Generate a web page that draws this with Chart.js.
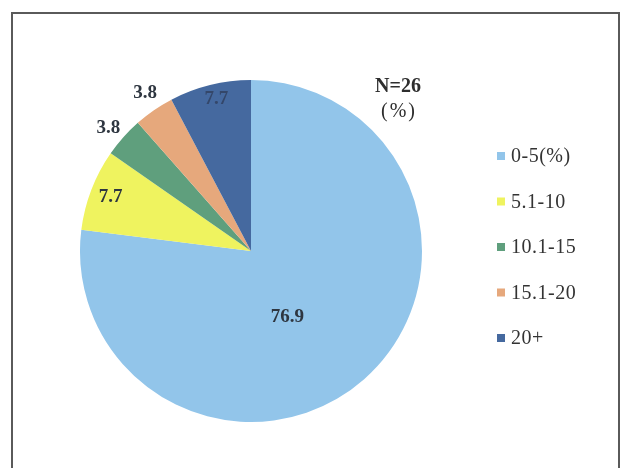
<!DOCTYPE html>
<html>
<head>
<meta charset="utf-8">
<script src="https://cdn.jsdelivr.net/npm/chart.js@4.4.1/dist/chart.umd.min.js"></script>
<style>
    html, body { margin: 0; padding: 0; background: #fff; }
    #wrap { position: relative; width: 622px; height: 468px; overflow: hidden; }
    #frame {
        position: absolute; left: 11px; top: 12px; width: 609px; height: 480px;
        border: 2px solid #5a5a5a; box-sizing: border-box;
    }
    canvas { position: absolute; left: 0; top: 0; }
</style>
</head>
<body>
<div id="wrap">
    <div id="frame"></div>
    <canvas id="pie" width="622" height="468"></canvas>
</div>
<script>
// share of respondents per range (%)
const categories = ['0-5(%)', '5.1-10', '10.1-15', '15.1-20', '20+'];
const shares = [76.9, 7.7, 3.8, 3.8, 7.7];
const sampleNote = ['N=26', '(%)'];

const sliceColors = ['#92c5ea', '#eff35f', '#5f9f7d', '#e6a87c', '#45699f'];

// where each value label sits: fraction of the radius and a small angular nudge
const labelRadius = [0.44, 0.88, 1.1, 1.11, 0.91];
const labelNudge = [12.5, 0, -1, 0.7, 1];

const serif = '"Liberation Serif", "Times New Roman", serif';

const valueLabels = {
    id: 'valueLabels',
    afterDatasetsDraw(chart) {
        const { ctx } = chart;
        const meta = chart.getDatasetMeta(0);
        ctx.save();
        ctx.font = 'bold 19px ' + serif;
        ctx.textAlign = 'center';
        ctx.textBaseline = 'middle';
        meta.data.forEach((arc, i) => {
            const { x, y, startAngle, endAngle, outerRadius } = arc.getProps(['x', 'y', 'startAngle', 'endAngle', 'outerRadius'], true);
            const mid = (startAngle + endAngle) / 2 + labelNudge[i] * Math.PI / 180;
            const r = outerRadius * labelRadius[i];
            ctx.fillStyle = i === 4 ? '#34476a' : '#2e3640';
            ctx.fillText(shares[i].toFixed(1), x + Math.cos(mid) * r, y + Math.sin(mid) * r);
        });
        // sample size note, upper right of the pie
        ctx.fillStyle = '#2e2e2e';
        ctx.font = 'bold 20px ' + serif;
        ctx.fillText(sampleNote[0], 398, 87);
        ctx.font = '20px ' + serif;
        ctx.letterSpacing = '2px';
        ctx.fillText(sampleNote[1], 399, 112);
        ctx.restore();
    }
};

const sideLegend = {
    id: 'sideLegend',
    afterDraw(chart) {
        const { ctx } = chart;
        const colors = chart.data.datasets[0].backgroundColor;
        ctx.save();
        ctx.font = '20px ' + serif;
        ctx.textBaseline = 'middle';
        ctx.textAlign = 'left';
        ctx.letterSpacing = '0.5px';
        chart.data.labels.forEach((label, i) => {
            const yc = 156 + i * 45.5;
            ctx.fillStyle = colors[i];
            ctx.fillRect(497, yc - 4, 8, 8);
            ctx.fillStyle = '#333';
            ctx.fillText(label, 511, yc + 1);
        });
        ctx.restore();
    }
};

new Chart(document.getElementById('pie'), {
    type: 'pie',
    data: {
        labels: categories,
        datasets: [{
            data: shares,
            backgroundColor: sliceColors,
            borderWidth: 0,
            radius: 171,
        }]
    },
    options: {
        responsive: false,
        animation: false,
        layout: { padding: { left: 40, right: 160, top: 60, bottom: 26 } },
        plugins: {
            legend: { display: false },
            tooltip: { enabled: false },
        },
    },
    plugins: [valueLabels, sideLegend],
});
</script>
</body>
</html>
